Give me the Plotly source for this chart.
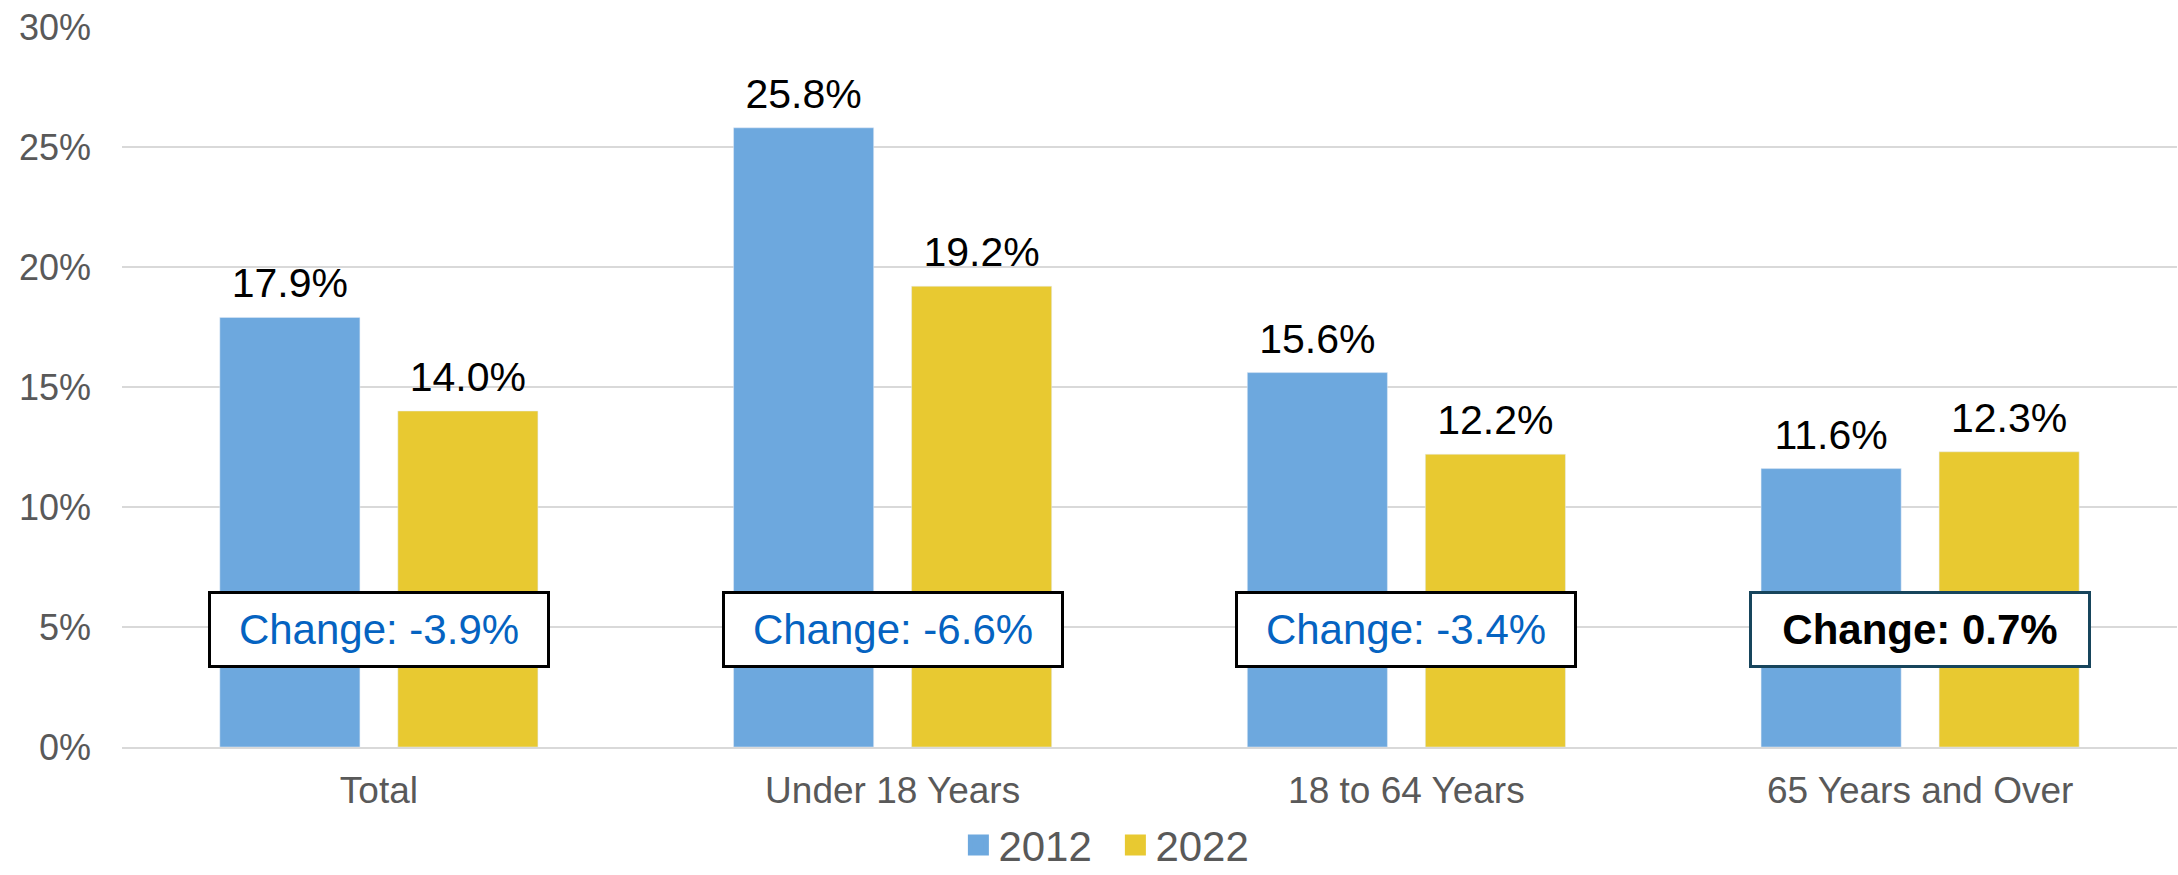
import plotly.graph_objects as go

# poverty rate by age group, 2012 vs 2022
categories = ["Total", "Under 18 Years", "18 to 64 Years", "65 Years and Over"]
rate_2012 = [17.9, 25.8, 15.6, 11.6]
rate_2022 = [14.0, 19.2, 12.2, 12.3]
change_labels = ["Change: -3.9%", "Change: -6.6%", "Change: -3.4%", "Change: 0.7%"]
change_significant = [True, True, True, False]
y_ticks = [0, 5, 10, 15, 20, 25, 30]

BLUE = "#6DA8DE"
YELLOW = "#E8C931"
GRAY_TEXT = "#595959"
FONT = "Liberation Sans, Arial, sans-serif"
BARGAP = 0.307

fig = go.Figure()
for name, vals, color in [("2012", rate_2012, BLUE), ("2022", rate_2022, YELLOW)]:
    fig.add_trace(
        go.Bar(
            x=categories, y=vals, name=name, marker_color=color, offsetgroup=name,
            showlegend=False, hoverinfo="y",
        )
    )
    # value labels: invisible grouped points so the text sits a bit higher than bar "outside" text
    fig.add_trace(
        go.Scatter(
            x=categories, y=vals, mode="markers+text", offsetgroup=name,
            text=[f"{v:.1f}%" for v in vals], textposition="top center",
            textfont=dict(size=41, color="black", family=FONT),
            marker=dict(size=14, opacity=0), cliponaxis=False,
            showlegend=False, hoverinfo="skip",
        )
    )
    # legend entries on a hidden overlay axis, with bigger squares than the bar default
    fig.add_trace(
        go.Scatter(
            x=[None], y=[None], mode="markers", name=name, xaxis="x2", yaxis="y2",
            marker=dict(symbol="square", size=16, color=color, line=dict(color=color, width=5)),
        )
    )

for cat, label, sig in zip(categories, change_labels, change_significant):
    fig.add_annotation(
        x=cat, y=4.9, text=f"<b>{label}</b>" if not sig else label, showarrow=False,
        font=dict(size=42, color="#0563C1" if sig else "black", family=FONT),
        bgcolor="white", bordercolor="black" if sig else "#17455C",
        borderwidth=3, borderpad=0, width=336, height=71,
    )

fig.update_layout(
    width=2178, height=875,
    margin=dict(l=122, r=1, t=27, b=128, autoexpand=False),
    plot_bgcolor="white", paper_bgcolor="white",
    font=dict(family=FONT, color=GRAY_TEXT),
    barmode="group", bargap=BARGAP, bargroupgap=0.213,
    scattermode="group", scattergap=BARGAP,
    legend=dict(
        orientation="h", x=0.407, y=-0.089, xanchor="left", yanchor="top",
        font=dict(size=42, color=GRAY_TEXT), entrywidth=112,
    ),
    xaxis2=dict(overlaying="x", visible=False),
    yaxis2=dict(overlaying="y", visible=False),
)
fig.update_yaxes(
    range=[0, 30], tickvals=y_ticks, ticktext=[f"{v}%" for v in y_ticks],
    tickfont=dict(size=36, color=GRAY_TEXT), showgrid=True, gridcolor="#D9D9D9",
    gridwidth=2, zeroline=False, ticks="", ticklabelstandoff=30, automargin=False,
    selector=dict(overlaying=None),
)
fig.update_xaxes(
    tickfont=dict(size=37, color=GRAY_TEXT), showline=True, linecolor="#D9D9D9",
    linewidth=2, ticks="", ticklabelstandoff=10, automargin=False,
    selector=dict(overlaying=None),
)

# the page body has an 8px default margin; drop it so the figure fills the window
fig.write_html(
    "out.html", config={"displayModeBar": False},
    post_script="document.body.style.margin='0';",
)
